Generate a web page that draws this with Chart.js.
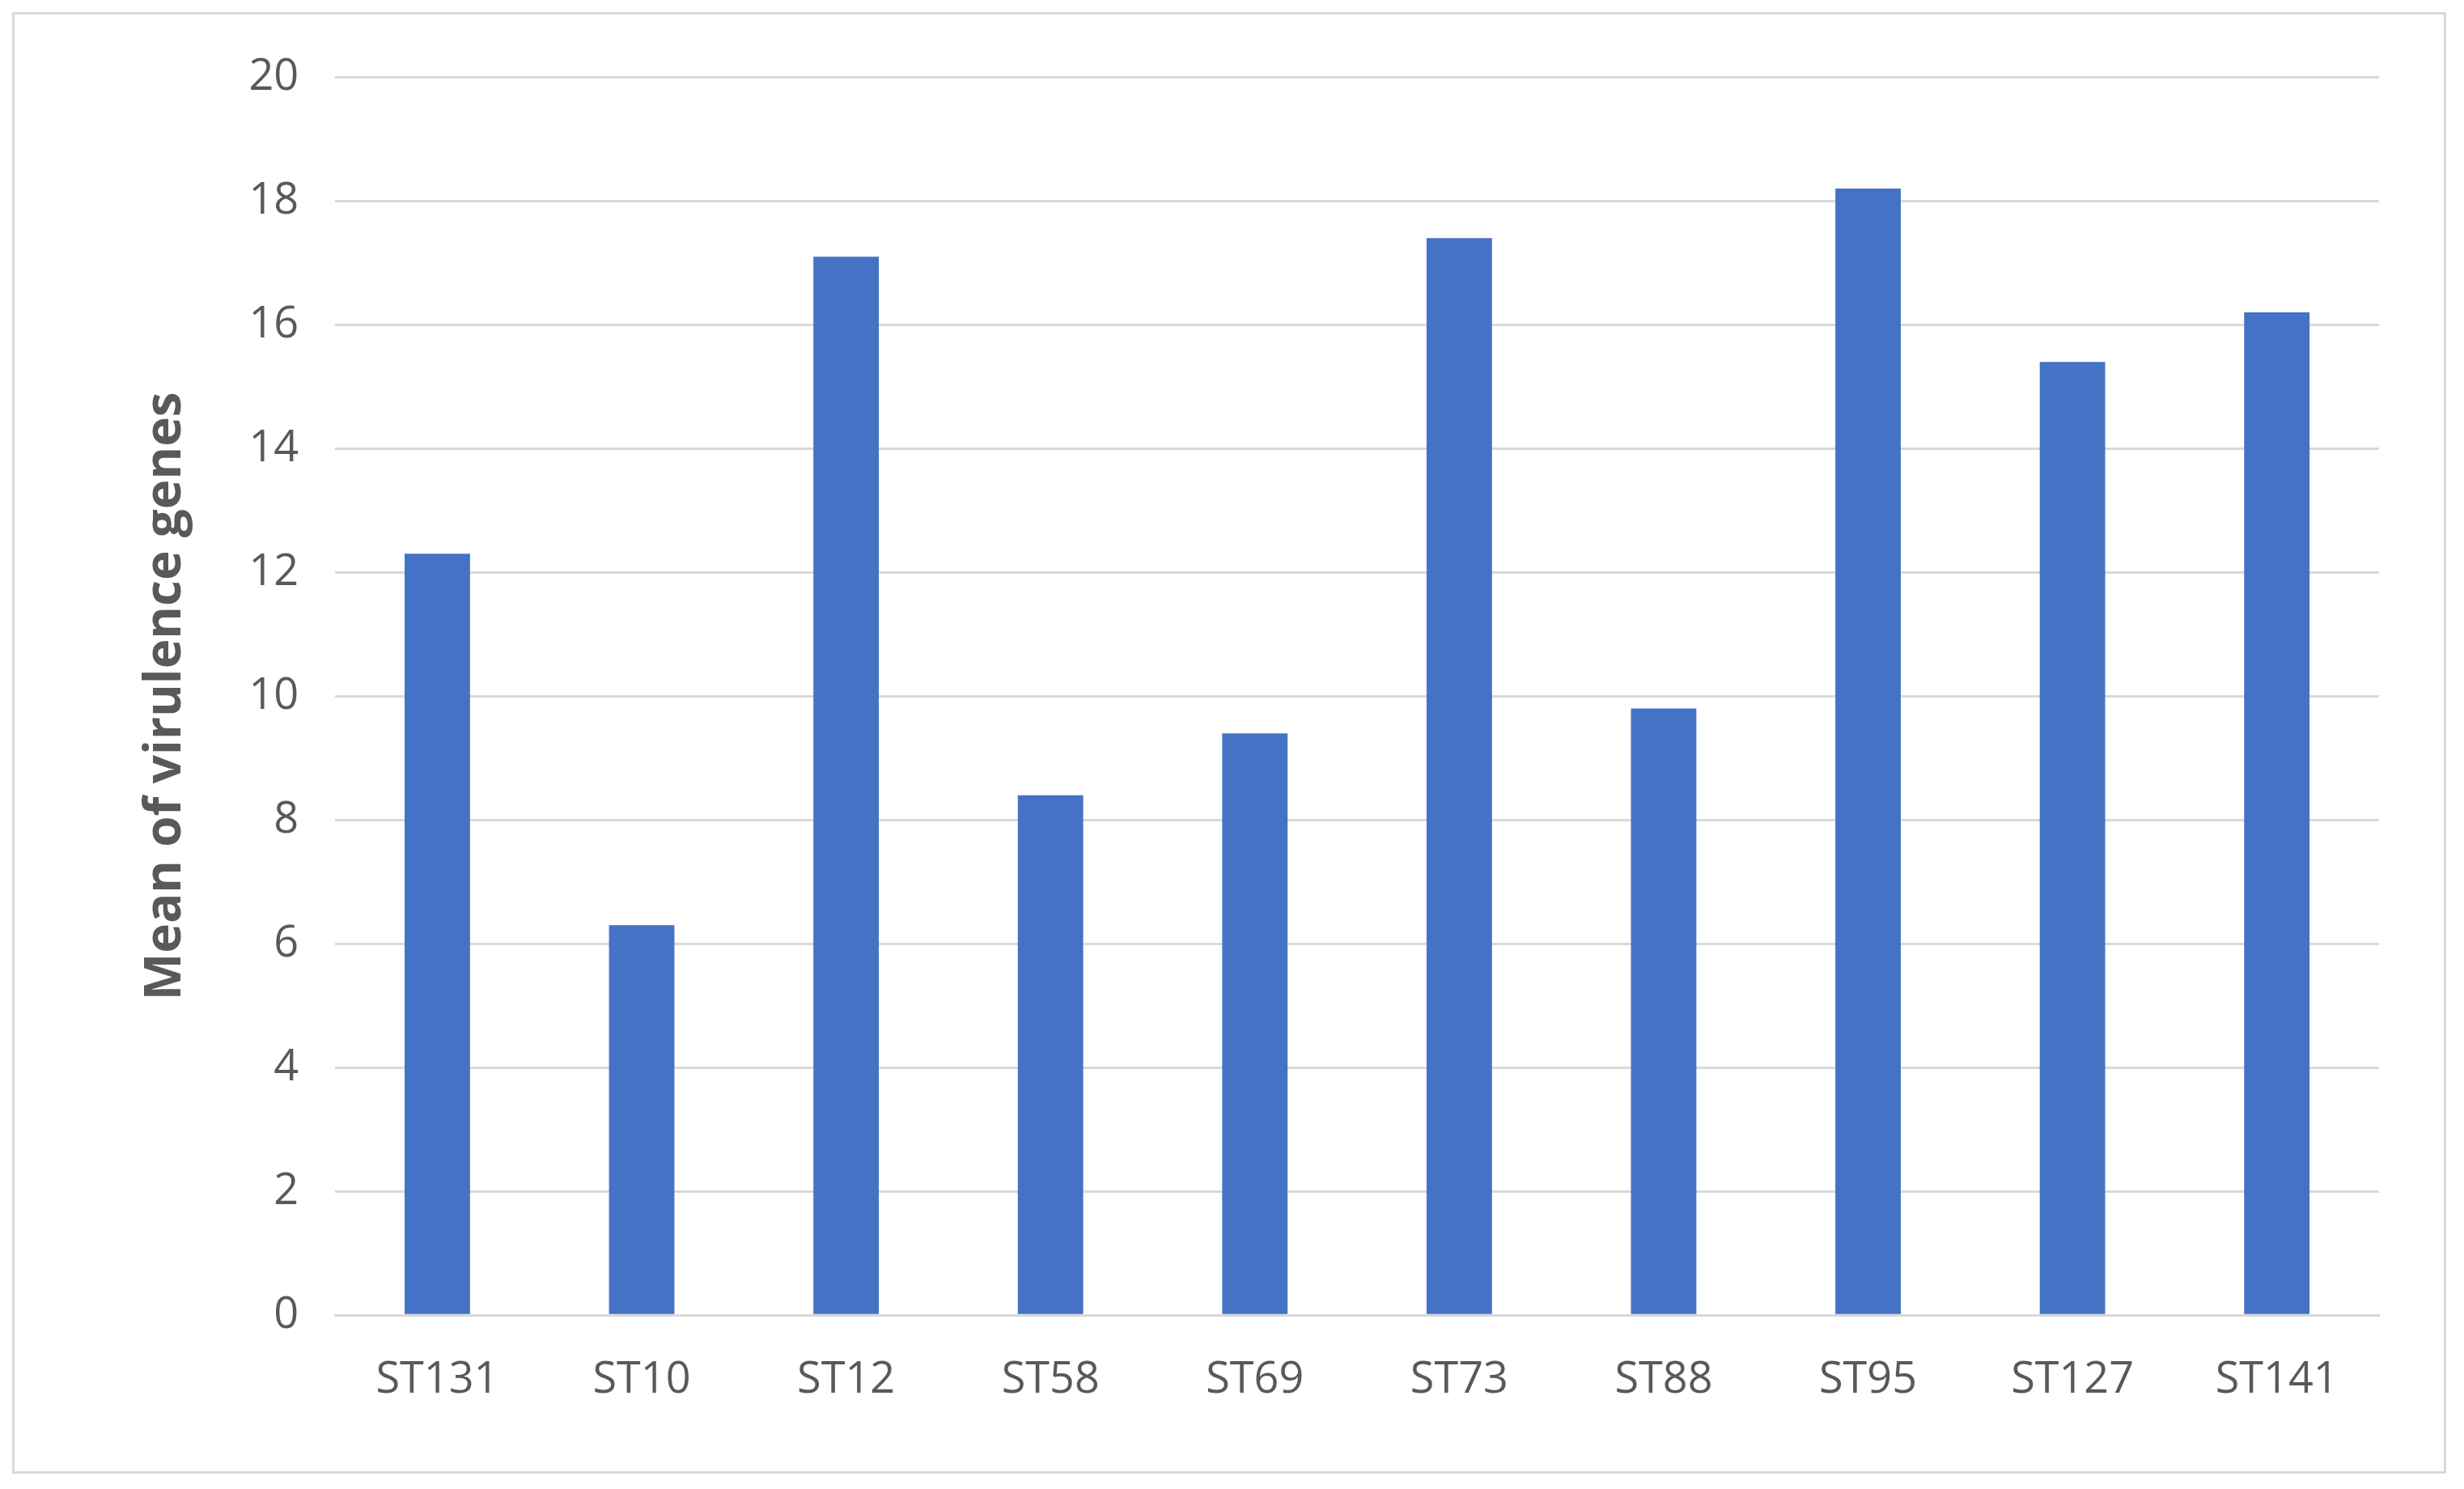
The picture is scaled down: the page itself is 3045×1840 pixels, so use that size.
<!DOCTYPE html>
<html>
<head>
<meta charset="utf-8">
<script src="https://cdn.jsdelivr.net/npm/chart.js@4"></script>
<style>
  html, body { margin: 0; padding: 0; background: #fff; }
  #wrap { position: absolute; left: 15px; top: 15px; width: 3008px; height: 1806px; border: 3px solid #d9d9d9; box-sizing: border-box; }
  canvas { display: block; }
</style>
</head>
<body>
<div id="wrap"><canvas id="chart"></canvas></div>
<script>
const categories = ['ST131', 'ST10', 'ST12', 'ST58', 'ST69', 'ST73', 'ST88', 'ST95', 'ST127', 'ST141'];
const means = [12.3, 6.3, 17.1, 8.4, 9.4, 17.4, 9.8, 18.2, 15.4, 16.2];

new Chart(document.getElementById('chart'), {
  type: 'bar',
  data: {
    labels: categories,
    datasets: [{
      data: means,
      backgroundColor: '#4472C4',
      barPercentage: 0.32,
      categoryPercentage: 1
    }]
  },
  options: {
    responsive: true,
    maintainAspectRatio: false,
    animation: false,
    layout: { padding: { top: 70, right: 80, bottom: 40, left: 130 } },
    plugins: { legend: { display: false }, tooltip: { enabled: false } },
    scales: {
      x: {
        grid: { display: false },
        border: { color: '#d9d9d9', width: 3 },
        ticks: { color: '#595959', font: { family: 'Open Sans', size: 54 }, padding: 40 }
      },
      y: {
        min: 0, max: 20,
        ticks: { stepSize: 2, color: '#595959', font: { family: 'Open Sans', size: 54 }, padding: 45 },
        grid: { color: '#d9d9d9', lineWidth: 3, drawTicks: false },
        border: { display: false },
        title: { display: true, text: 'Mean of virulence genes', color: '#595959', font: { family: 'Open Sans', size: 62, weight: 'bold' }, padding: 20 }
      }
    }
  }
});
</script>
</body>
</html>
